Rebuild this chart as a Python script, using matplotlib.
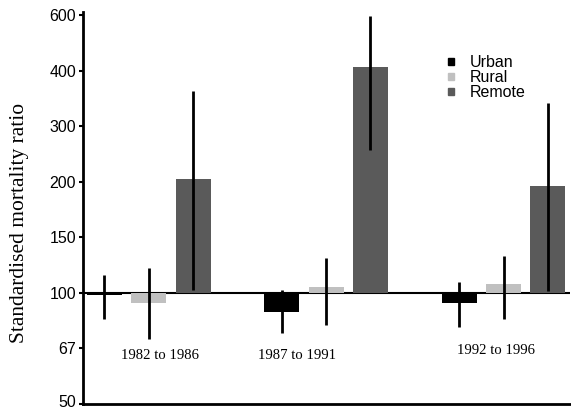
import numpy as np
import matplotlib
matplotlib.use('Agg')
import matplotlib.pyplot as plt
import matplotlib.transforms as mtransforms
from matplotlib.patches import Patch

# data (SMR, baseline 100)
periods = ['1982 to 1986', '1987 to 1991', '1992 to 1996']
areas = ['Urban', 'Rural', 'Remote']
colors = ['#000000', '#c0c0c0', '#5a5a5a']

smr = {
    'Urban':  [99, 89, 94],
    'Rural':  [94, 104, 106],
    'Remote': [204, 410, 195],
}
ci_low = {
    'Urban':  [85, 78, 81],
    'Rural':  [75, 82, 85],
    'Remote': [102, 244, 101],
}
ci_high = {
    'Urban':  [112, 102, 107],
    'Rural':  [117, 124, 126],
    'Remote': [353, 563, 327],
}

tick_vals = [100 * 2 ** (k / 2) for k in range(-2, 6)]
tick_labels = ['50', '67', '100', '150', '200', '300', '400', '600']

fig = plt.figure(figsize=(5.71, 4.11), dpi=100)
ax = fig.add_axes([0.1454, 0.017, 0.853, 0.954])
ax.set_yscale('log')

width = 0.79
for j, area in enumerate(areas):
    xs = np.arange(len(periods)) * 4 + j
    vals = np.array(smr[area])
    ax.bar(xs, vals - 100, bottom=100, width=width, color=colors[j], zorder=2)
    lo = vals - np.array(ci_low[area])
    hi = np.array(ci_high[area]) - vals
    ax.errorbar(xs, vals, yerr=[lo, hi], fmt='none', ecolor='black',
                elinewidth=2, capsize=0, zorder=3)

ax.axhline(100, color='black', lw=1.5, zorder=1)

# period labels
label_pos = [(1.25, 67.5), (4.35, 67.5), (8.84, 70)]
for (lx, ly), p in zip(label_pos, periods):
    ax.text(lx, ly, p, ha='center', va='center', family='Liberation Serif', fontsize=10.6)

ax.set_ylim(50, 577)
ax.set_xlim(-0.48, 10.5)
ax.set_yticks(tick_vals)
ax.set_yticklabels(tick_labels, family='Liberation Sans', fontsize=11.5)
ax.yaxis.set_minor_locator(matplotlib.ticker.NullLocator())
ax.tick_params(axis='y', length=3, width=1.5, pad=2)
ax.set_xticks([])
for s in ['top', 'right']:
    ax.spines[s].set_visible(False)
ax.spines['left'].set_linewidth(2)
ax.spines['bottom'].set_linewidth(2)

# nudge the bottom "50" up a little so it stays inside the figure
lbl = ax.yaxis.get_major_ticks()[0].label1
lbl.set_transform(lbl.get_transform() + mtransforms.ScaledTranslation(0, 2.5 / 72, fig.dpi_scale_trans))

fig.text(0.035, 0.457, 'Standardised mortality ratio', rotation=90, ha='center', va='center',
         family='Liberation Serif', fontsize=15.5)

handles = [Patch(color=c, label=a) for a, c in zip(areas, colors)]
leg = fig.legend(handles=handles, loc='upper left', bbox_to_anchor=(0.779, 0.873), frameon=False,
                 handlelength=0.35, handleheight=0.35, handletextpad=1.0, labelspacing=0.0,
                 borderpad=0.2, borderaxespad=0,
                 prop={'family': 'Liberation Sans', 'size': 11.5})

fig.savefig('out.png', dpi=100)
